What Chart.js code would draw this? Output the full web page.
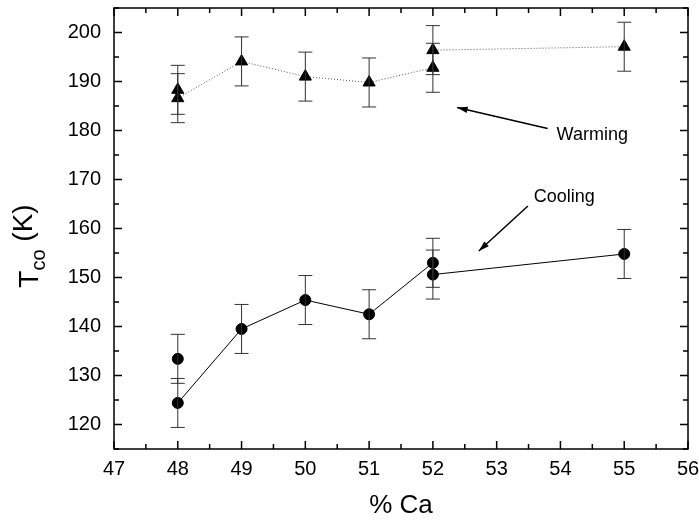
<!DOCTYPE html>
<html>
<head>
<meta charset="utf-8">
<script src="https://cdn.jsdelivr.net/npm/chart.js@4/dist/chart.umd.min.js"></script>
<style>
  body { margin: 0; background: #fff; }
  #wrap { width: 699px; height: 529px; }
</style>
</head>
<body>
<div id="wrap"><canvas id="tcoChart" width="699" height="529"></canvas></div>
<script>
// tick labels
const xTicks = [47, 48, 49, 50, 51, 52, 53, 54, 55, 56];
const yTicks = [120, 130, 140, 150, 160, 170, 180, 190, 200];

// cooling (circles, solid line)
const coolCa = [48, 49, 50, 51, 52, 52, 55];
const coolT = [124.4, 139.5, 145.4, 142.5, 153.0, 150.6, 154.8];
const coolErr = [5, 5, 5, 5, 5, 5, 5];
const coolExtraCa = [48];
const coolExtraT = [133.4];
const coolExtraErr = [5];

// warming (triangles, dotted line)
const warmCa = [48, 49, 50, 51, 52, 52, 55];
const warmT = [186.6, 194.1, 191.0, 189.8, 192.8, 196.4, 197.1];
const warmErr = [5, 5, 5, 5, 5, 5, 5];
const warmExtraCa = [48];
const warmExtraT = [188.3];
const warmExtraErr = [5];

const toPts = (xs, ys, es) => xs.map((x, i) => ({ x: x, y: ys[i], err: es[i] }));

const FONT = 'Liberation Sans, Arial, sans-serif';

// error bars, inward ticks, frame, labels and arrows
const decor = {
    id: 'decor',
    afterDatasetsDraw(chart) {
        const { ctx, chartArea: a, scales: { x, y } } = chart;
        ctx.save();

        // error bars
        ctx.strokeStyle = '#333';
        ctx.lineWidth = 1;
        chart.data.datasets.forEach(ds => {
            ds.data.forEach(p => {
                const px = x.getPixelForValue(p.x);
                const top = y.getPixelForValue(p.y + p.err);
                const bot = y.getPixelForValue(p.y - p.err);
                ctx.beginPath();
                ctx.moveTo(px, top); ctx.lineTo(px, bot);
                ctx.moveTo(px - 7, top); ctx.lineTo(px + 7, top);
                ctx.moveTo(px - 7, bot); ctx.lineTo(px + 7, bot);
                ctx.stroke();
            });
        });

        // frame
        ctx.strokeStyle = '#000';
        ctx.lineWidth = 1.5;
        ctx.strokeRect(a.left, a.top, a.right - a.left, a.bottom - a.top);

        // inward ticks on all four sides
        ctx.beginPath();
        for (let v = 47; v <= 56; v += 0.5) {
            const px = x.getPixelForValue(v);
            const len = Number.isInteger(v) ? 8 : 5;
            ctx.moveTo(px, a.bottom); ctx.lineTo(px, a.bottom - len);
            ctx.moveTo(px, a.top); ctx.lineTo(px, a.top + len);
        }
        for (let v = 115; v <= 205; v += 5) {
            const py = y.getPixelForValue(v);
            const len = v % 10 === 0 ? 8 : 5;
            ctx.moveTo(a.left, py); ctx.lineTo(a.left + len, py);
            ctx.moveTo(a.right, py); ctx.lineTo(a.right - len, py);
        }
        ctx.stroke();

        // annotations
        const arrow = (x0, y0, x1, y1) => {
            const sx = x.getPixelForValue(x0), sy = y.getPixelForValue(y0);
            const ex = x.getPixelForValue(x1), ey = y.getPixelForValue(y1);
            const ang = Math.atan2(ey - sy, ex - sx);
            ctx.lineWidth = 1.5;
            ctx.beginPath();
            ctx.moveTo(sx, sy); ctx.lineTo(ex, ey);
            ctx.stroke();
            ctx.beginPath();
            ctx.moveTo(ex, ey);
            ctx.lineTo(ex - 11 * Math.cos(ang - 0.3), ey - 11 * Math.sin(ang - 0.3));
            ctx.lineTo(ex - 11 * Math.cos(ang + 0.3), ey - 11 * Math.sin(ang + 0.3));
            ctx.closePath();
            ctx.fill();
        };
        ctx.fillStyle = '#000';
        arrow(53.8, 180.4, 52.38, 184.7);
        arrow(53.49, 164.6, 52.72, 155.4);

        ctx.font = '18px ' + FONT;
        ctx.textBaseline = 'middle';
        ctx.textAlign = 'left';
        ctx.fillText('Warming', x.getPixelForValue(53.94), y.getPixelForValue(179.0));
        ctx.fillText('Cooling', x.getPixelForValue(53.58), y.getPixelForValue(166.4));

        // y title with subscript
        ctx.translate(38, 246);
        ctx.rotate(-Math.PI / 2);
        ctx.textBaseline = 'alphabetic';
        ctx.font = '28px ' + FONT;
        const tW = ctx.measureText('T').width;
        ctx.font = '20px ' + FONT;
        const coW = ctx.measureText('co').width;
        ctx.font = '28px ' + FONT;
        const kW = ctx.measureText(' (K)').width;
        let cx = -(tW + coW + kW) / 2;
        ctx.fillText('T', cx, 0);
        cx += tW;
        ctx.font = '20px ' + FONT;
        ctx.fillText('co', cx, 7);
        cx += coW;
        ctx.font = '28px ' + FONT;
        ctx.fillText(' (K)', cx, -6);

        ctx.restore();
    }
};

new Chart(document.getElementById('tcoChart').getContext('2d'), {
    type: 'scatter',
    data: {
        datasets: [{
            label: 'Cooling',
            data: toPts(coolCa, coolT, coolErr),
            showLine: true,
            borderColor: '#000',
            backgroundColor: '#000',
            borderWidth: 1,
            pointStyle: 'circle',
            pointRadius: 5.5
        }, {
            label: 'Cooling extra',
            data: toPts(coolExtraCa, coolExtraT, coolExtraErr),
            borderColor: '#000',
            backgroundColor: '#000',
            pointStyle: 'circle',
            pointRadius: 5.5
        }, {
            label: 'Warming',
            data: toPts(warmCa, warmT, warmErr),
            showLine: true,
            borderColor: '#555',
            backgroundColor: '#000',
            borderWidth: 1,
            borderDash: [1, 2],
            pointStyle: 'triangle',
            pointRadius: 7,
            pointBorderColor: '#000'
        }, {
            label: 'Warming extra',
            data: toPts(warmExtraCa, warmExtraT, warmExtraErr),
            borderColor: '#000',
            backgroundColor: '#000',
            pointStyle: 'triangle',
            pointRadius: 7
        }]
    },
    options: {
        responsive: false,
        animation: false,
        layout: { padding: { left: 0, top: 8, right: 11, bottom: 0 } },
        plugins: {
            legend: { display: false },
            tooltip: { enabled: false }
        },
        scales: {
            x: {
                type: 'linear',
                min: 47,
                max: 56,
                afterBuildTicks: s => { s.ticks = xTicks.map(v => ({ value: v })); },
                afterFit: s => { s.height = 80; s.paddingLeft = 0; s.paddingRight = 0; },
                grid: { display: false, drawTicks: false },
                border: { display: false },
                ticks: { color: '#000', padding: 8, font: { size: 20, family: FONT } },
                title: {
                    display: true,
                    text: '% Ca',
                    color: '#000',
                    font: { size: 26, family: FONT },
                    padding: { top: 0, bottom: 8 }
                }
            },
            y: {
                type: 'linear',
                min: 115,
                max: 205,
                afterBuildTicks: s => { s.ticks = yTicks.map(v => ({ value: v })); },
                afterFit: s => { s.width = 114; s.paddingTop = 0; s.paddingBottom = 0; },
                grid: { display: false, drawTicks: false },
                border: { display: false },
                ticks: { color: '#000', padding: 13, font: { size: 20, family: FONT } }
            }
        }
    },
    plugins: [decor]
});
</script>
</body>
</html>
